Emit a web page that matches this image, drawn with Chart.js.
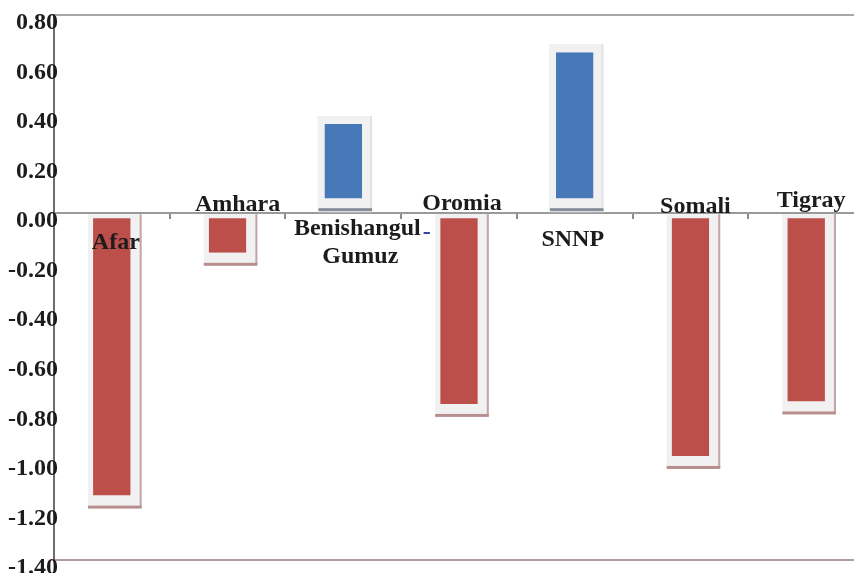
<!DOCTYPE html>
<html>
<head>
<meta charset="utf-8">
<script src="https://cdn.jsdelivr.net/npm/chart.js@4"></script>
<style>
  html, body { margin: 0; padding: 0; background: #fff; overflow: hidden; }
  #wrap { width: 864px; height: 573px; }
</style>
</head>
<body>
<div id="wrap"><canvas id="chart" width="864" height="573"></canvas></div>
<script>
// regions and their values
const regions = ['Afar', 'Amhara', 'Benishangul-Gumuz', 'Oromia', 'SNNP', 'Somali', 'Tigray'];
const values = [-1.14, -0.16, 0.36, -0.77, 0.65, -0.98, -0.76];

// value axis
const yMin = -1.4;
const yMax = 0.8;
const yStep = 0.2;

// where each category name sits, relative to the category centre and the zero line
const labelPlacement = [
    [{ dx: 4, dy: 36 }],
    [{ dx: 10, dy: -2 }],
    [{ dx: 14, dy: 22 }, { dx: 17, dy: 50 }],
    [{ dx: 3, dy: -3 }],
    [{ dx: -2, dy: 33 }],
    [{ dx: 5, dy: 0 }],
    [{ dx: 5, dy: -6 }]
];

const RED = '#bd4f4b';
const BLUE = '#4779b9';
const FRAME = '#f1f1f1';
const TEXT = '#1c1c1c';
const FONT = "'Liberation Serif', 'Times New Roman', serif";

function barBoxes(chart) {
    return chart.getDatasetMeta(0).data.map((bar) => bar.getProps(['x', 'y', 'base', 'width'], true));
}

// light frame behind each bar, shadow line drawn on top
const framePlugin = {
    id: 'frames',
    beforeDatasetsDraw(chart) {
        const ctx = chart.ctx;
        ctx.save();
        barBoxes(chart).forEach((p) => {
            const l = p.x - p.width / 2;
            const r = p.x + p.width / 2;
            ctx.fillStyle = FRAME;
            if (p.y > p.base) {
                ctx.fillRect(l - 5, p.base, p.width + 16, p.y + 12 - p.base);
                ctx.fillStyle = '#c6a4a4';
                ctx.fillRect(r + 9, p.base, 2, p.y + 12 - p.base);
            } else {
                ctx.fillRect(l - 7, p.y - 8, p.width + 16, p.base - p.y + 8);
                ctx.fillStyle = '#e2e2e2';
                ctx.fillRect(r + 8, p.y - 8, 2, p.base - p.y + 8);
            }
        });
        ctx.restore();
    },
    afterDatasetsDraw(chart) {
        const ctx = chart.ctx;
        ctx.save();
        barBoxes(chart).forEach((p) => {
            const l = p.x - p.width / 2;
            if (p.y > p.base) {
                ctx.fillStyle = '#b88f8f';
                ctx.fillRect(l - 5, p.y + 10, p.width + 16, 3);
            } else {
                ctx.fillStyle = '#858d99';
                ctx.fillRect(l - 6, p.base - 4, p.width + 16, 3);
            }
        });
        ctx.restore();
    }
};

// y tick labels, right edge slightly past the axis line
const yLabelPlugin = {
    id: 'yLabels',
    afterDraw(chart) {
        const ctx = chart.ctx;
        const ys = chart.scales.y;
        ctx.save();
        ctx.font = 'bold 24px ' + FONT;
        ctx.textAlign = 'right';
        ctx.textBaseline = 'middle';
        ctx.fillStyle = TEXT;
        ys.ticks.forEach((t) => {
            ctx.fillText(t.value.toFixed(2), ys.right + 4, ys.getPixelForValue(t.value) + 8);
        });
        ctx.restore();
    }
};

// category names written near the zero line
const namePlugin = {
    id: 'names',
    afterDraw(chart) {
        const ctx = chart.ctx;
        const xs = chart.scales.x;
        const y0 = chart.scales.y.getPixelForValue(0);
        ctx.save();
        ctx.font = 'bold 24px ' + FONT;
        ctx.textBaseline = 'alphabetic';
        regions.forEach((name, i) => {
            const cx = xs.getPixelForValue(i);
            const lines = name.split('-');
            lines.forEach((line, j) => {
                const pl = labelPlacement[i][j];
                ctx.fillStyle = TEXT;
                ctx.textAlign = 'center';
                ctx.fillText(line, cx + pl.dx, y0 + pl.dy);
                if (j < lines.length - 1) {
                    const w = ctx.measureText(line).width;
                    ctx.fillStyle = '#2f45a0';
                    ctx.textAlign = 'left';
                    ctx.fillText('-', cx + pl.dx + w / 2 + 2, y0 + pl.dy + 4);
                }
            });
        });
        ctx.restore();
    }
};

const ctx = document.getElementById('chart').getContext('2d');
new Chart(ctx, {
    type: 'bar',
    data: {
        labels: regions,
        datasets: [{
            data: values,
            backgroundColor: (c) => c.raw < 0 ? RED : BLUE,
            borderColor: FRAME,
            borderSkipped: false,
            borderWidth: (c) => c.raw < 0
                ? { top: 4, bottom: 0, left: 0, right: 0 }
                : { top: 0, bottom: 14, left: 0, right: 0 },
            categoryPercentage: 1,
            barPercentage: 0.325
        }]
    },
    options: {
        responsive: false,
        animation: false,
        devicePixelRatio: 1,
        layout: { padding: { top: 15, bottom: 13, left: 0, right: 0 } },
        plugins: {
            legend: { display: false },
            tooltip: { enabled: false }
        },
        scales: {
            x: {
                position: { y: 0 },
                ticks: { display: false },
                grid: {
                    offset: true,
                    drawOnChartArea: false,
                    drawTicks: true,
                    tickLength: 5,
                    color: '#8c8c8c',
                    lineWidth: 2
                },
                border: { color: '#9a9a9a', width: 2 }
            },
            y: {
                min: yMin,
                max: yMax,
                ticks: { stepSize: yStep, display: false },
                grid: {
                    drawTicks: false,
                    lineWidth: 2,
                    color: (c) => {
                        const v = c.tick.value;
                        if (Math.abs(v - yMax) < 1e-6) return '#a8a8a8';
                        if (Math.abs(v - yMin) < 1e-6) return '#b49c9c';
                        return 'rgba(0,0,0,0)';
                    }
                },
                border: { color: '#6e6e6e', width: 2 },
                afterFit: (scale) => {
                    scale.width = 54;
                    scale.paddingTop = 0;
                    scale.paddingBottom = 0;
                }
            }
        }
    },
    plugins: [framePlugin, yLabelPlugin, namePlugin]
});
</script>
</body>
</html>
